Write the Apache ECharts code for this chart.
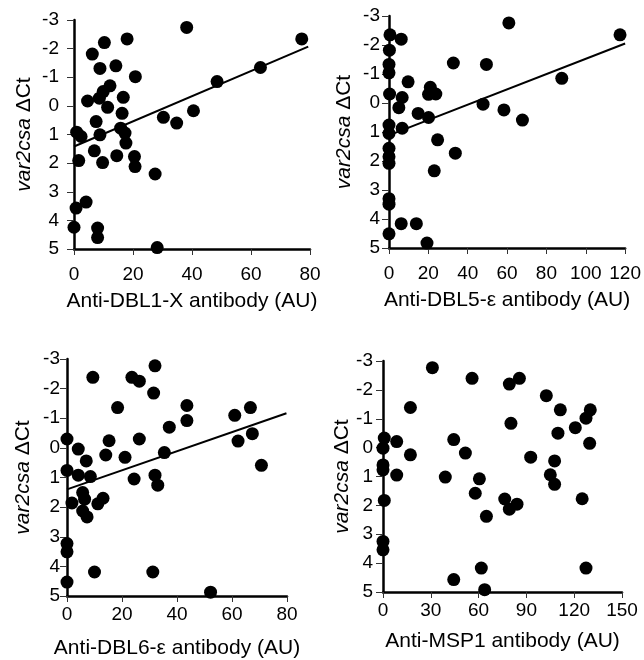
<!DOCTYPE html>
<html>
<head>
<meta charset="utf-8">
<script src="https://cdn.jsdelivr.net/npm/echarts@6/dist/echarts.min.js"></script>
<style>
html,body{margin:0;padding:0;background:#fff;}
#c{width:644px;height:660px;}
</style>
</head>
<body>
<div id="c"></div>
<script>
// ---- data (x = antibody AU, y = var2csa ΔCt) ----
const dbl1x = [[38.2,-2.74],[77.2,-2.34],[10.3,-2.21],[18.0,-2.34],[6.2,-1.81],[8.8,-1.31],[14.2,-1.40],[20.8,-1.02],[12.2,-0.70],[9.9,-0.50],[8.6,-0.27],[4.6,-0.17],[16.7,-0.30],[11.4,0.05],[16.3,0.26],[7.5,0.55],[30.3,0.40],[40.5,0.17],[34.8,0.60],[48.5,-0.85],[63.2,-1.34],[0.9,0.92],[2.4,1.07],[8.8,1.01],[15.8,0.78],[17.3,0.95],[17.6,1.30],[6.9,1.57],[14.5,1.74],[20.5,1.77],[9.7,1.98],[20.7,2.12],[1.6,1.91],[27.5,2.38],[4.1,3.36],[0.7,3.57],[0.0,4.24],[8.0,4.27],[8.0,4.60],[28.2,4.95]];
const dbl5e = [[60.9,-2.76],[117.4,-2.35],[6.2,-2.20],[0.5,-2.35],[0.2,-1.82],[0,-1.33],[0,-1.04],[32.7,-1.38],[49.5,-1.33],[9.7,-0.73],[87.8,-0.85],[21.0,-0.54],[20.1,-0.30],[23.8,-0.31],[0.3,-0.31],[6.7,-0.19],[5.0,0.16],[47.8,0.04],[58.4,0.24],[67.8,0.59],[14.8,0.36],[20.1,0.50],[6.7,0.87],[0,0.76],[0,1.05],[24.7,1.27],[33.7,1.73],[0,1.56],[0,1.85],[0,2.08],[23.0,2.34],[0,3.30],[0,3.49],[6.2,4.16],[13.9,4.16],[0,4.51],[19.3,4.83]];
const dbl6e = [[32.0,-2.77],[9.4,-2.38],[23.6,-2.38],[26.3,-2.25],[31.5,-1.85],[18.4,-1.36],[43.6,-1.43],[43.6,-0.92],[61.0,-1.10],[66.7,-1.36],[37.2,-0.70],[67.4,-0.48],[62.2,-0.23],[0,-0.30],[26.3,-0.30],[15.3,-0.24],[4.1,0.04],[14.1,0.24],[21.1,0.32],[35.4,0.16],[7.0,0.44],[70.7,0.59],[0,0.76],[4.1,0.92],[8.5,0.97],[32.0,0.92],[24.4,1.05],[33.0,1.26],[5.7,1.51],[6.4,1.73],[13.1,1.70],[11.2,1.89],[1.8,1.86],[5.7,2.13],[7.3,2.33],[0,3.23],[0,3.51],[10.0,4.19],[31.2,4.19],[0,4.53],[52.2,4.87]];
const msp1 = [[31.0,-2.77],[55.9,-2.40],[85.6,-2.40],[79.3,-2.20],[102.5,-1.80],[17.2,-1.39],[111.3,-1.31],[130.1,-1.31],[127.4,-1.02],[80.3,-0.84],[120.7,-0.69],[109.8,-0.50],[0.8,-0.33],[44.4,-0.28],[8.6,-0.21],[129.7,-0.15],[0,0.02],[51.7,0.19],[17.2,0.25],[92.7,0.33],[107.7,0.46],[0,0.60],[0,0.77],[8.6,0.95],[39.1,1.02],[60.5,1.08],[105.0,0.94],[107.7,1.27],[57.9,1.58],[0.8,1.83],[76.4,1.78],[125.0,1.77],[84.1,1.96],[79.3,2.13],[64.9,2.38],[0,3.25],[0,3.54],[61.7,4.17],[127.4,4.17],[44.4,4.57],[63.8,4.92]];

// regression lines (end points)
const fit1 = [[0,1.42],[79.4,-2.07]];
const fit2 = [[0.5,1.10],[120,-2.05]];
const fit3 = [[0,1.40],[79.8,-1.17]];

const xNames = ['Anti-DBL1-X antibody (AU)','Anti-DBL5-\u03b5 antibody (AU)','Anti-DBL6-\u03b5 antibody (AU)','Anti-MSP1 antibody (AU)'];
const xMax = [80,120,80,150];
const xStep = [20,20,20,30];
const yMin = -3, yMax = 5, yStep = 1;
const yName = '{i|var2csa} \u0394Ct';

const scatterData = [dbl1x, dbl5e, dbl6e, msp1];
const fitData = [fit1, fit2, fit3, null];

// ---- layout ----
const grids = [
  {left:74, top:20, width:236, height:229},
  {left:389, top:16, width:238, height:232},
  {left:67, top:359, width:220, height:237},
  {left:383, top:361, width:239, height:231}
];
const yLabelMargin = [15,9,7,10];
const yNameGap = [39,34,33,30];
const xNameGap = [42,42,42,39];
const xLabelMargin = [16,16,9,9];

const FONT = '"Liberation Sans", Arial, sans-serif';
const axisLine = {show:true, onZero:false, lineStyle:{color:'#000', width:2.5}};

const option = {
  animation:false,
  backgroundColor:'#fff',
  grid: grids.map(g => Object.assign({containLabel:false}, g)),
  xAxis: grids.map((g,i) => ({
    gridIndex:i, type:'value', position:'bottom', min:0, max:xMax[i], interval:xStep[i],
    name:xNames[i], nameLocation:'middle', nameGap:xNameGap[i],
    nameTextStyle:{fontFamily:FONT, fontSize:21, color:'#000'},
    axisLine:axisLine,
    axisTick:{show:true, length:6, lineStyle:{color:'#333', width:1}},
    axisLabel:{fontFamily:FONT, fontSize:19, color:'#000', margin:xLabelMargin[i]},
    splitLine:{show:false}
  })),
  yAxis: grids.map((g,i) => ({
    gridIndex:i, type:'value', position:'left', inverse:true, min:yMin, max:yMax, interval:yStep,
    name:yName, nameLocation:'middle', nameGap:yNameGap[i], nameRotate:90,
    nameTextStyle:{fontFamily:FONT, fontSize:21, color:'#000',
      rich:{i:{fontFamily:FONT, fontSize:21, fontStyle:'italic', color:'#000'}}},
    axisLine:axisLine,
    axisTick:{show:true, length:7, lineStyle:{color:'#333', width:1}},
    axisLabel:{fontFamily:FONT, fontSize:19, color:'#000', margin:yLabelMargin[i]},
    splitLine:{show:false}
  })),
  series: []
};

scatterData.forEach((d,i) => {
  option.series.push({
    type:'scatter', xAxisIndex:i, yAxisIndex:i, data:d,
    symbol:'circle', symbolSize:13, z:3,
    itemStyle:{color:'#000', opacity:1}
  });
  if (fitData[i]) {
    option.series.push({
      type:'line', xAxisIndex:i, yAxisIndex:i, data:fitData[i],
      symbol:'none', z:4,
      lineStyle:{color:'#000', width:2}
    });
  }
});

const chart = echarts.init(document.getElementById('c'), null, {renderer:'canvas'});
chart.setOption(option);
</script>
</body>
</html>
